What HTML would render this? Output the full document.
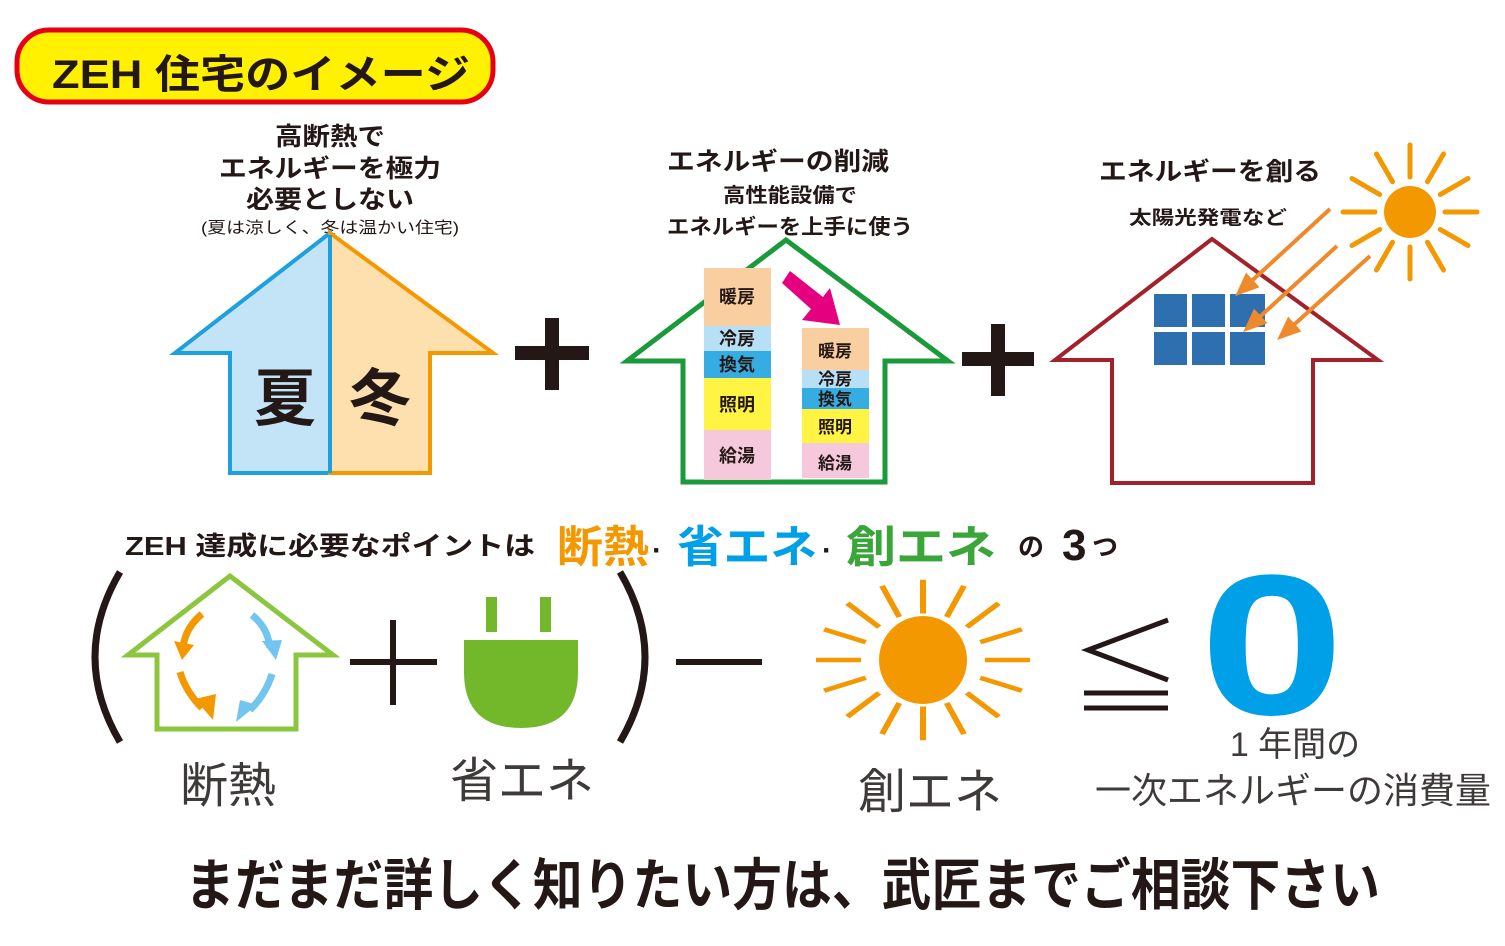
<!DOCTYPE html>
<html><head><meta charset="utf-8"><style>
html,body{margin:0;padding:0;background:#fff}
svg{display:block}
text{font-family:"Liberation Sans","Noto Sans CJK JP",sans-serif}
.b{font-weight:bold}
</style></head><body>
<svg width="1505" height="946" viewBox="0 0 1505 946" xmlns="http://www.w3.org/2000/svg">
<defs>
<marker id="oa" markerWidth="6" markerHeight="5" refX="3" refY="2.5" orient="auto" markerUnits="strokeWidth"><path d="M0,0 L6,2.5 L0,5 z" fill="#ef8a2c"/></marker>
</defs>
<!-- title -->
<rect x="17" y="30" width="476" height="72" rx="32" fill="#fff100" stroke="#e60012" stroke-width="5"/>
<text x="52" y="88" font-size="40" class="b" fill="#231815" textLength="418" lengthAdjust="spacingAndGlyphs">ZEH 住宅のイメージ</text>

<!-- house 1 -->
<g font-size="25" class="b" fill="#231815" text-anchor="middle">
<text x="330" y="145" textLength="110" lengthAdjust="spacingAndGlyphs">高断熱で</text>
<text x="330" y="177" textLength="222" lengthAdjust="spacingAndGlyphs">エネルギーを極力</text>
<text x="330" y="208" textLength="168" lengthAdjust="spacingAndGlyphs">必要としない</text>
</g>
<text x="330" y="233" font-size="16" text-anchor="middle" fill="#231815" textLength="258" lengthAdjust="spacingAndGlyphs">(夏は涼しく、冬は温かい住宅)</text>
<path d="M330,233 L175,353 L230,353 L230,473 L330,473 Z" fill="#c3e3f6" stroke="#1ea0dc" stroke-width="4" stroke-linejoin="miter"/>
<path d="M330,233 L493,353 L430,353 L430,473 L330,473 Z" fill="#fde0ad" stroke="#f39800" stroke-width="4"/>
<line x1="330" y1="235" x2="330" y2="473" stroke="#1ea0dc" stroke-width="4"/>
<text x="285" y="420" font-size="62" class="b" text-anchor="middle" fill="#231815">夏</text>
<text x="380" y="420" font-size="62" class="b" text-anchor="middle" fill="#231815">冬</text>

<!-- plus 1 -->
<rect x="515" y="346" width="74" height="14" fill="#231815"/>
<rect x="545" y="318" width="14" height="72" fill="#231815"/>

<!-- house 2 -->
<text x="778" y="170" font-size="25" class="b" text-anchor="middle" fill="#231815" textLength="222" lengthAdjust="spacingAndGlyphs">エネルギーの削減</text>
<text x="790" y="202" font-size="20" class="b" text-anchor="middle" fill="#231815" textLength="134" lengthAdjust="spacingAndGlyphs">高性能設備で</text>
<text x="790" y="234" font-size="21" class="b" text-anchor="middle" fill="#231815" textLength="246" lengthAdjust="spacingAndGlyphs">エネルギーを上手に使う</text>
<path d="M786,240 L627,361 L683,361 L683,482 L885,482 L885,361 L948,361 Z" fill="#fff" stroke="#1a9a3a" stroke-width="5"/>
<rect x="704" y="268" width="67" height="58" fill="#f9cea0"/>
<rect x="704" y="326" width="67" height="25" fill="#b7dff5"/>
<rect x="704" y="351" width="67" height="27" fill="#36ade2"/>
<rect x="704" y="378" width="67" height="52" fill="#fff343"/>
<rect x="704" y="430" width="67" height="50" fill="#f6c8dc"/>
<g font-size="18" class="b" text-anchor="middle" fill="#231815">
<text x="737" y="303">暖房</text><text x="737" y="345">冷房</text><text x="737" y="371">換気</text><text x="737" y="411">照明</text><text x="737" y="462">給湯</text>
</g>
<rect x="802" y="328" width="67" height="42" fill="#f9cea0"/>
<rect x="802" y="370" width="67" height="18" fill="#b7dff5"/>
<rect x="802" y="388" width="67" height="21" fill="#36ade2"/>
<rect x="802" y="409" width="67" height="34" fill="#fff343"/>
<rect x="802" y="443" width="67" height="35" fill="#f6c8dc"/>
<g font-size="17" class="b" text-anchor="middle" fill="#231815">
<text x="835" y="357">暖房</text><text x="835" y="385">冷房</text><text x="835" y="405">換気</text><text x="835" y="433">照明</text><text x="835" y="469">給湯</text>
</g>
<path d="M782,283 L790,271 L823,297 L830,288 L840,325 L802,320 L811,309 Z" fill="#e4007f"/>

<!-- plus 2 -->
<rect x="962" y="352" width="72" height="14" fill="#231815"/>
<rect x="991" y="324" width="14" height="72" fill="#231815"/>

<!-- house 3 -->
<text x="1210" y="180" font-size="25" class="b" text-anchor="middle" fill="#231815" textLength="222" lengthAdjust="spacingAndGlyphs">エネルギーを創る</text>
<text x="1208" y="224" font-size="19" class="b" text-anchor="middle" fill="#231815" textLength="158" lengthAdjust="spacingAndGlyphs">太陽光発電など</text>
<path d="M1212,239 L1055,360 L1112,360 L1112,483 L1313,483 L1313,360 L1378,360 Z" fill="#fff" stroke="#a3212a" stroke-width="4"/>
<g fill="#2e6fb0">
<rect x="1154" y="294" width="33" height="33"/><rect x="1192" y="294" width="33" height="33"/><rect x="1230" y="294" width="35" height="33"/>
<rect x="1154" y="332" width="33" height="33"/><rect x="1192" y="332" width="33" height="33"/><rect x="1230" y="332" width="35" height="33"/>
</g>
<g stroke="#ef8a2c" stroke-width="4" marker-end="url(#oa)">
<line x1="1330" y1="209" x2="1244" y2="288"/>
<line x1="1337" y1="246" x2="1252" y2="324"/>
<line x1="1370" y1="256" x2="1286" y2="332"/>
</g>
<g transform="translate(1410,212)">
<circle r="26" fill="#f39800"/>
<g stroke="#f39800" stroke-width="5" stroke-linecap="round">
<line x1="35" y1="0" x2="67" y2="0" transform="rotate(0)"/><line x1="35" y1="0" x2="67" y2="0" transform="rotate(30)"/><line x1="35" y1="0" x2="67" y2="0" transform="rotate(60)"/><line x1="35" y1="0" x2="67" y2="0" transform="rotate(90)"/><line x1="35" y1="0" x2="67" y2="0" transform="rotate(120)"/><line x1="35" y1="0" x2="67" y2="0" transform="rotate(150)"/><line x1="35" y1="0" x2="67" y2="0" transform="rotate(180)"/><line x1="35" y1="0" x2="67" y2="0" transform="rotate(210)"/><line x1="35" y1="0" x2="67" y2="0" transform="rotate(240)"/><line x1="35" y1="0" x2="67" y2="0" transform="rotate(270)"/><line x1="35" y1="0" x2="67" y2="0" transform="rotate(300)"/><line x1="35" y1="0" x2="67" y2="0" transform="rotate(330)"/>
</g></g>

<!-- middle line -->
<text x="125" y="555" font-size="26" class="b" fill="#231815" textLength="410" lengthAdjust="spacingAndGlyphs">ZEH 達成に必要なポイントは</text>
<text x="557" y="562" font-size="44" class="b" fill="#f39800" textLength="92" lengthAdjust="spacingAndGlyphs">断熱</text>
<text x="652" y="560" font-size="30" class="b" fill="#231815">·</text>
<text x="677" y="562" font-size="44" class="b" fill="#00a0e9" textLength="140" lengthAdjust="spacingAndGlyphs">省エネ</text>
<text x="822" y="560" font-size="30" class="b" fill="#231815">·</text>
<text x="846" y="562" font-size="44" class="b" fill="#3aa63a" textLength="150" lengthAdjust="spacingAndGlyphs">創エネ</text>
<text x="1018" y="556" font-size="26" class="b" fill="#231815">の</text>
<text x="1062" y="560" font-size="44" class="b" fill="#231815">3</text>
<text x="1092" y="556" font-size="26" class="b" fill="#231815">つ</text>

<!-- equation -->
<path d="M120,572 Q70,657 120,742" fill="none" stroke="#231815" stroke-width="7"/>
<path d="M620,572 Q670,657 620,742" fill="none" stroke="#231815" stroke-width="7"/>
<path d="M230,576 L128,655 L157,655 L157,729 L296,729 L296,655 L333,655 Z" fill="#fff" stroke="#8cc63f" stroke-width="5"/>
<g fill="none" stroke-width="7">
<path d="M202,614 Q185,628 183,648" stroke="#f39800"/>
<path d="M252,615 Q268,628 270,648" stroke="#71c5ee"/>
<path d="M180,672 Q186,692 202,708" stroke="#f39800"/>
<path d="M272,674 Q266,694 250,710" stroke="#71c5ee"/>
</g>
<g>
<path d="M174,641 L194,645 L182,660 Z" fill="#f39800"/>
<path d="M262,641 L282,640 L276,660 Z" fill="#71c5ee"/>
<path d="M195,699 L216,694 L213,720 Z" fill="#f39800"/>
<path d="M240,700 L257,705 L236,722 Z" fill="#71c5ee"/>
</g>
<rect x="350" y="659" width="87" height="6" fill="#231815"/>
<rect x="390" y="620" width="6" height="85" fill="#231815"/>
<rect x="486" y="597" width="11" height="35" fill="#72b82a"/>
<rect x="540" y="597" width="11" height="35" fill="#72b82a"/>
<path d="M464,640 L578,640 L578,672 Q578,728 521,728 Q464,728 464,672 Z" fill="#72b82a"/>
<rect x="676" y="659" width="86" height="6" fill="#231815"/>
<g transform="translate(923,660)">
<circle r="44" fill="#f39800"/>
<g stroke="#f39800" stroke-width="6" transform="scale(1,0.75)">
<line x1="62" y1="0" x2="107" y2="0" transform="rotate(0)"/><line x1="62" y1="0" x2="107" y2="0" transform="rotate(22.5)"/><line x1="62" y1="0" x2="107" y2="0" transform="rotate(45)"/><line x1="62" y1="0" x2="107" y2="0" transform="rotate(67.5)"/><line x1="62" y1="0" x2="107" y2="0" transform="rotate(90)"/><line x1="62" y1="0" x2="107" y2="0" transform="rotate(112.5)"/><line x1="62" y1="0" x2="107" y2="0" transform="rotate(135)"/><line x1="62" y1="0" x2="107" y2="0" transform="rotate(157.5)"/><line x1="62" y1="0" x2="107" y2="0" transform="rotate(180)"/><line x1="62" y1="0" x2="107" y2="0" transform="rotate(202.5)"/><line x1="62" y1="0" x2="107" y2="0" transform="rotate(225)"/><line x1="62" y1="0" x2="107" y2="0" transform="rotate(247.5)"/><line x1="62" y1="0" x2="107" y2="0" transform="rotate(270)"/><line x1="62" y1="0" x2="107" y2="0" transform="rotate(292.5)"/><line x1="62" y1="0" x2="107" y2="0" transform="rotate(315)"/><line x1="62" y1="0" x2="107" y2="0" transform="rotate(337.5)"/>
</g></g>
<g stroke="#231815" stroke-width="5" fill="none">
<path d="M1168,620 L1088,650 L1168,680"/>
<line x1="1084" y1="693" x2="1168" y2="693"/>
<line x1="1084" y1="708" x2="1168" y2="708"/>
</g>
<text transform="translate(1272,714) scale(1.3,1)" font-size="200" class="b" text-anchor="middle" fill="#00a0e9">0</text>

<g fill="#3e3a39" text-anchor="middle">
<text x="228" y="802" font-size="48">断熱</text>
<text x="522" y="797" font-size="48">省エネ</text>
<text x="930" y="808" font-size="48">創エネ</text>
<text x="1295" y="756" font-size="34">1 年間の</text>
<text x="1293" y="803" font-size="36">一次エネルギーの消費量</text>
</g>

<text x="185" y="905" font-size="56" class="b" fill="#231815" textLength="1195" lengthAdjust="spacingAndGlyphs">まだまだ詳しく知りたい方は、武匠までご相談下さい</text>
</svg>
</body></html>
